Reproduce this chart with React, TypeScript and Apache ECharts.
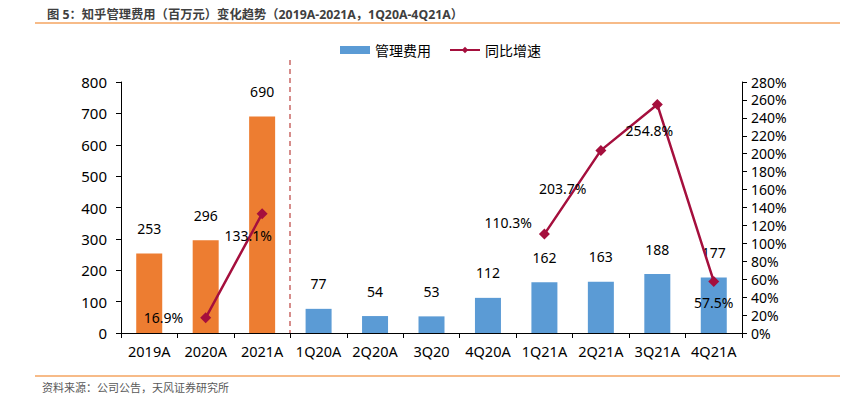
import React, { useEffect, useRef } from "react";
import * as echarts from "echarts";

const categories = ["2019A", "2020A", "2021A", "1Q20A", "2Q20A", "3Q20", "4Q20A", "1Q21A", "2Q21A", "3Q21A", "4Q21A"];
const expenseValues = [253, 296, 690, 77, 54, 53, 112, 162, 163, 188, 177];
const growthValues: (number | null)[] = [null, 16.9, 133.1, null, null, null, null, 110.3, 203.7, 254.8, 57.5];
const leftTicks = { min: 0, max: 800, interval: 100 };
const rightTicks = { min: 0, max: 280, interval: 20 };

const ORANGE = "#ED7D31";
const BLUE = "#5B9BD5";
const CRIMSON = "#A50F3D";
const FONT = "'Noto Sans', 'Noto Sans CJK SC', sans-serif";

// label placement for each growth point [position, offsetX, offsetY]
const growthLabelPlacement: Record<number, [string, number, number]> = {
  1: ["left", -12, 0],
  2: ["bottom", -14, 4],
  7: ["left", -2, -12],
  8: ["left", -4, 38],
  9: ["bottom", -8, 8],
  10: ["bottom", 0, 4],
};

export default function App() {
  const ref = useRef<HTMLDivElement>(null);
  useEffect(() => {
    if (!ref.current) return;
    const chart = echarts.init(ref.current, null, { renderer: "svg" });
    const barData = expenseValues.map((v, i) => ({
      value: v,
      itemStyle: { color: i < 3 ? ORANGE : BLUE },
    }));
    const lineData = growthValues.map((v, i) => {
      const p = growthLabelPlacement[i];
      return {
        value: v,
        label: p ? { position: p[0], offset: [p[1], p[2]] } : undefined,
      };
    });
    chart.setOption({
      animation: false,
      textStyle: { fontFamily: FONT },
      title: {
        text: "图 5：知乎管理费用（百万元）变化趋势（2019A-2021A，1Q20A-4Q21A）",
        left: 42,
        top: 3,
        textStyle: { fontSize: 12.3, fontWeight: "bold", color: "#3f3f3f", fontFamily: FONT },
      },
      legend: {
        top: 38,
        left: 335,
        itemGap: 18,
        itemWidth: 30,
        itemHeight: 8,
        textStyle: { fontSize: 14, color: "#000", fontFamily: FONT },
        data: [
          { name: "管理费用", icon: "rect", itemStyle: { color: BLUE } },
          { name: "同比增速" },
        ],
      },
      grid: { left: 121, right: 124, top: 82, bottom: 64 },
      xAxis: {
        type: "category",
        data: categories,
        axisLine: { lineStyle: { color: "#000", width: 1 } },
        axisTick: { show: true, length: 5, lineStyle: { color: "#000" } },
        axisLabel: { fontSize: 14.5, color: "#000", margin: 11, interval: 0, fontFamily: FONT },
      },
      yAxis: [
        {
          type: "value",
          ...leftTicks,
          axisLine: { show: true, lineStyle: { color: "#000" } },
          axisTick: { show: true, length: 5, lineStyle: { color: "#000" } },
          splitLine: { show: false },
          axisLabel: { fontSize: 15, color: "#000", margin: 14, fontFamily: FONT },
        },
        {
          type: "value",
          ...rightTicks,
          position: "right",
          axisLine: { show: true, lineStyle: { color: "#000" } },
          axisTick: { show: true, length: 5, lineStyle: { color: "#000" } },
          splitLine: { show: false },
          axisLabel: { fontSize: 14, lineHeight: 15, color: "#000", margin: 9, formatter: "{value}%", fontFamily: FONT },
        },
      ],
      series: [
        {
          name: "管理费用",
          type: "bar",
          data: barData,
          barWidth: 26,
          itemStyle: { color: BLUE },
          label: { show: true, position: "top", distance: 18, fontSize: 14, color: "#000", fontFamily: FONT },
        },
        {
          name: "同比增速",
          type: "line",
          yAxisIndex: 1,
          data: lineData,
          connectNulls: false,
          symbol: "diamond",
          symbolSize: 11,
          lineStyle: { color: CRIMSON, width: 2.5 },
          itemStyle: { color: CRIMSON },
          label: {
            show: true,
            fontSize: 14,
            color: "#000",
            fontFamily: FONT,
            formatter: (p: any) => (p.value == null ? "" : p.value.toFixed(1) + "%"),
          },
        },
      ],
      graphic: [
        { type: "line", shape: { x1: 35, y1: 23, x2: 840, y2: 23 }, style: { stroke: "#F4A460", lineWidth: 1.5 } },
        { type: "line", shape: { x1: 35, y1: 376, x2: 840, y2: 376 }, style: { stroke: "#F4A460", lineWidth: 1.5 } },
        { type: "line", shape: { x1: 290, y1: 60, x2: 290, y2: 333 }, style: { stroke: "#C0504D", lineWidth: 1.3, lineDash: [5, 4] } },
        {
          type: "text",
          left: 42,
          top: 382,
          style: { text: "资料来源：公司公告，天风证券研究所", fontSize: 11, fill: "#595959", fontFamily: FONT },
        },
      ],
    });
    return () => chart.dispose();
  }, []);
  return <div ref={ref} style={{ position: "fixed", left: 0, top: 0, width: 866, height: 397, background: "#fff" }} />;
}
